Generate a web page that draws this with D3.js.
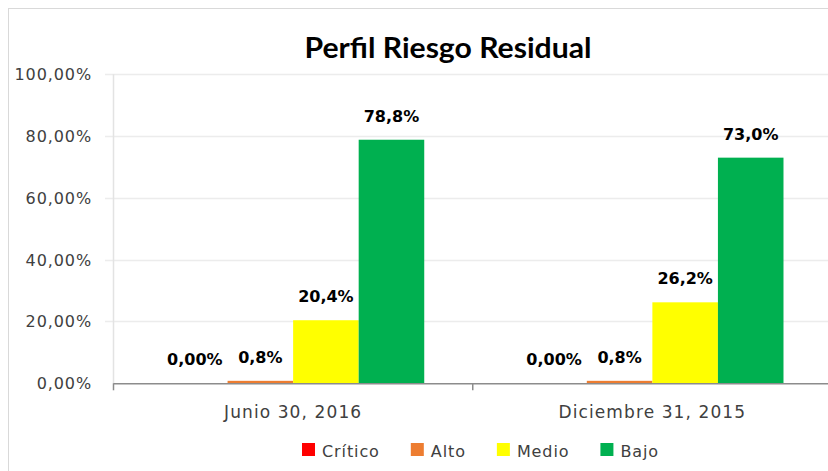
<!DOCTYPE html>
<html>
<head>
<meta charset="utf-8">
<script src="https://cdn.jsdelivr.net/npm/d3@7"></script>
<style>
  body { margin: 0; background: #fff; }
  svg { display: block; }
</style>
</head>
<body>
<svg id="Vis" width="828" height="471"></svg>
<script>
// data
var periods = ["Junio 30, 2016", "Diciembre 31, 2015"];
var levels = ["Crítico", "Alto", "Medio", "Bajo"];
var levelColors = ["#FF0000", "#ED7D31", "#FFFF00", "#00B050"];
var valuesJun2016 = [0, 0.8, 20.4, 78.8];
var valuesDic2015 = [0, 0.8, 26.2, 73.0];
var labelsJun2016 = ["0,00%", "0,8%", "20,4%", "78,8%"];
var labelsDic2015 = ["0,00%", "0,8%", "26,2%", "73,0%"];
var yTicks = [0, 20, 40, 60, 80, 100];

var allValues = [valuesJun2016, valuesDic2015];
var allLabels = [labelsJun2016, labelsDic2015];

var svg = d3.select("#Vis");

// outer chart border (runs off the right / bottom edge)
svg.append("rect")
  .attr("x", 8.5).attr("y", 8.5)
  .attr("width", 840).attr("height", 480)
  .attr("fill", "none")
  .attr("stroke", "#d9d9d9");

var plotLeft = 113.5, plotRight = 832, plotTop = 74.2, plotBottom = 383.3;

var x0 = d3.scaleBand().domain(periods).range([plotLeft, plotRight]).paddingInner(0).paddingOuter(0);
var x1 = d3.scaleBand().domain(levels).range([0, x0.bandwidth()]).paddingOuter(0.74).paddingInner(0);
var y = d3.scaleLinear().domain([0, 100]).range([plotBottom, plotTop]);

// gridlines
svg.append("g").selectAll("line")
  .data(yTicks.filter(function(d){ return d > 0; }))
  .enter().append("line")
  .attr("x1", 105).attr("x2", 828)
  .attr("y1", function(d){ return Math.round(y(d)) + 0.5; })
  .attr("y2", function(d){ return Math.round(y(d)) + 0.5; })
  .attr("stroke", "#ececec")
  .attr("stroke-width", 1.5);

// y axis line
svg.append("line")
  .attr("x1", plotLeft).attr("x2", plotLeft)
  .attr("y1", y(100)).attr("y2", plotBottom)
  .attr("stroke", "#e3e3e3").attr("stroke-width", 1.5);

// y tick labels
svg.append("g").selectAll("text")
  .data(yTicks)
  .enter().append("text")
  .attr("x", 92)
  .attr("y", function(d){ return y(d) + 6; })
  .attr("text-anchor", "end")
  .style("font-family", "DejaVu Sans")
  .style("font-size", "16px")
  .style("letter-spacing", "0.9px")
  .style("fill", "#404040")
  .text(function(d){ return d3.format(".2f")(d).replace(".", ",") + "%"; });

// bars
var groups = svg.append("g").selectAll("g")
  .data(periods)
  .enter().append("g")
  .attr("transform", function(d){ return "translate(" + x0(d) + ",0)"; });

groups.selectAll("rect")
  .data(function(d, i){ return allValues[i].map(function(v, j){ return {level: levels[j], value: v, color: levelColors[j]}; }); })
  .enter().append("rect")
  .attr("x", function(d){ return x1(d.level); })
  .attr("y", function(d){ return y(d.value); })
  .attr("width", x1.bandwidth())
  .attr("height", function(d){ return plotBottom - y(d.value); })
  .attr("fill", function(d){ return d.color; });

groups.selectAll("text")
  .data(function(d, i){ return allValues[i].map(function(v, j){ return {level: levels[j], value: v, label: allLabels[i][j]}; }); })
  .enter().append("text")
  .attr("x", function(d){ return x1(d.level) + x1.bandwidth() / 2; })
  .attr("y", function(d){ return y(d.value) - 18; })
  .attr("text-anchor", "middle")
  .style("font-family", "DejaVu Sans")
  .style("font-weight", "bold")
  .style("font-size", "16px")
  .style("fill", "#000")
  .text(function(d){ return d.label; });

// x axis
svg.append("line")
  .attr("x1", plotLeft).attr("x2", 828)
  .attr("y1", plotBottom + 0.5).attr("y2", plotBottom + 0.5)
  .attr("stroke", "#8c8c8c").attr("stroke-width", 1.5);

svg.append("g").selectAll("line")
  .data([plotLeft, x0(periods[1])])
  .enter().append("line")
  .attr("x1", function(d){ return d; }).attr("x2", function(d){ return d; })
  .attr("y1", plotBottom).attr("y2", plotBottom + 7)
  .attr("stroke", "#8c8c8c").attr("stroke-width", 1.5);

svg.append("g").selectAll("text")
  .data(periods)
  .enter().append("text")
  .attr("x", function(d){ return x0(d) + x0.bandwidth() / 2; })
  .attr("y", 418)
  .attr("text-anchor", "middle")
  .style("font-family", "DejaVu Sans")
  .style("font-size", "17px")
  .style("letter-spacing", "1.1px")
  .style("fill", "#404040")
  .text(function(d){ return d; });

// title
svg.append("text")
  .attr("x", 448).attr("y", 58)
  .attr("text-anchor", "middle")
  .attr("textLength", 287)
  .attr("lengthAdjust", "spacingAndGlyphs")
  .style("font-family", "Lato")
  .style("font-weight", "bold")
  .style("font-size", "28px")
  .style("fill", "#000")
  .text("Perfil Riesgo Residual");

// legend
var legend = svg.append("g");
var lx = 302;
levels.forEach(function(name, i){
  legend.append("rect")
    .attr("x", lx).attr("y", 443)
    .attr("width", 13).attr("height", 13)
    .attr("fill", levelColors[i]);
  var t = legend.append("text")
    .attr("x", lx + 20).attr("y", 456.5)
    .style("font-family", "DejaVu Sans")
    .style("font-size", "16px")
    .style("letter-spacing", "0.9px")
    .style("fill", "#404040")
    .text(name);
  lx += 20 + t.node().getComputedTextLength() + 31;
});
</script>
</body>
</html>
